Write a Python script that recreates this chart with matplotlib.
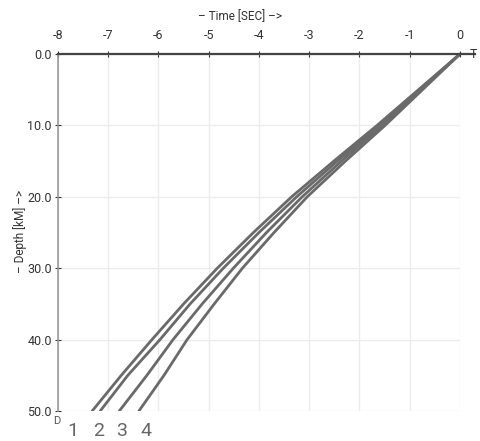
import matplotlib
matplotlib.use('Agg')
import matplotlib.pyplot as plt

# depth samples (km) and travel times (sec) for the four curves
depth = [0, 10, 15, 20, 25, 30, 35, 40, 45, 50]
time_1 = [0, -1.65, -2.51, -3.35, -4.11, -4.83, -5.50, -6.13, -6.74, -7.32]
time_2 = [0, -1.60, -2.44, -3.25, -4.00, -4.71, -5.37, -5.97, -6.61, -7.16]
time_3 = [0, -1.55, -2.36, -3.14, -3.85, -4.51, -5.13, -5.71, -6.23, -6.78]
time_4 = [0, -1.49, -2.28, -3.04, -3.70, -4.33, -4.89, -5.43, -5.89, -6.39]
curve_labels = ['1', '2', '3', '4']

x_ticks = [-8, -7, -6, -5, -4, -3, -2, -1, 0]
y_ticks = [0, 10, 20, 30, 40, 50]

plt.rcParams['font.family'] = ['Roboto', 'DejaVu Sans']

fig = plt.figure(figsize=(4.8, 4.41), dpi=100)
ax = fig.add_axes([0.1208, 0.068, 0.8375, 0.8096])

for t in [time_1, time_2, time_3, time_4]:
    ax.plot(t, depth, color='#6a6a6a', linewidth=2.0, solid_capstyle='round',
            solid_joinstyle='round')

ax.set_xlim(-8, 0)
ax.set_ylim(50, 0)
ax.set_xticks(x_ticks)
ax.set_xticklabels([str(v) for v in x_ticks])
ax.set_yticks(y_ticks)
ax.set_yticklabels(['%.1f' % v for v in y_ticks])
ax.xaxis.tick_top()
ax.tick_params(axis='both', labelsize=9, colors='#333333', direction='inout', length=5, width=0.8)
ax.tick_params(axis='x', pad=6)
ax.tick_params(axis='y', pad=2)
ax.grid(True, color='#ececec', linewidth=1.0)
ax.set_axisbelow(True)

for s in ['right', 'bottom']:
    ax.spines[s].set_visible(False)
ax.spines['top'].set_color('#444444')
ax.spines['top'].set_linewidth(1.6)
ax.spines['left'].set_color('#999999')
ax.spines['left'].set_linewidth(1.2)

# extend the top axis line a little past zero
ax.plot([0, 0.3], [0, 0], color='#444444', linewidth=1.6, clip_on=False)

fig.text(0.5, 0.962, '– Time [SEC] –>', ha='center', va='center', fontsize=8.5, color='#333333')
fig.text(0.042, 0.475, '– Depth [kM] –>', ha='center', va='center', rotation=90, fontsize=8.5, color='#333333')
fig.text(0.994, 0.877, 'T', ha='right', va='center', fontsize=9, color='#333333')

# curve numbers under the bottom edge
fig.text(0.119, 0.045, 'D', ha='center', va='center', fontsize=8, color='#555555')
label_x = [0.152, 0.205, 0.253, 0.305]
for lx, lab in zip(label_x, curve_labels):
    fig.text(lx, 0.022, lab, ha='center', va='center', fontsize=14, color='#666666')

fig.savefig('out.png', dpi=100)
